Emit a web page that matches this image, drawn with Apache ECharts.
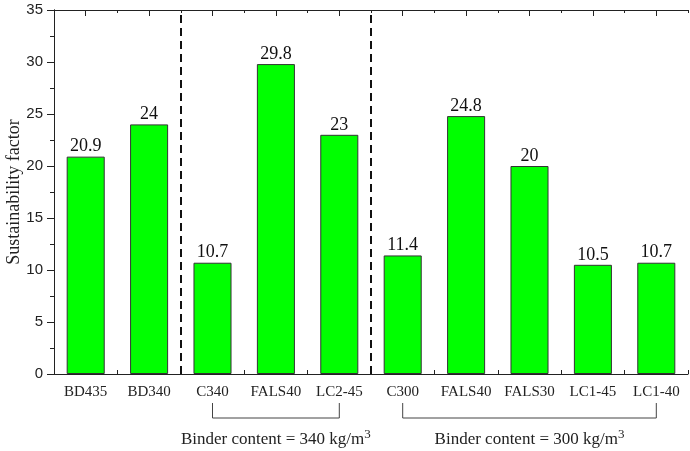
<!DOCTYPE html>
<html>
<head>
<meta charset="utf-8">
<script src="https://cdn.jsdelivr.net/npm/echarts@6/dist/echarts.min.js"></script>
<style>
  html, body { margin: 0; padding: 0; background: #fff; }
  #main { width: 690px; height: 451px; }
</style>
</head>
<body>
<div id="main"></div>
<script>
var categories = ['BD435', 'BD340', 'C340', 'FALS40', 'LC2-45', 'C300', 'FALS40', 'FALS30', 'LC1-45', 'LC1-40'];
var values = [20.9, 24, 10.7, 29.8, 23, 11.4, 24.8, 20, 10.5, 10.7];
var dividers = [2, 5];
var groups = [
  { from: 2, to: 4, label: 'Binder content = 340 kg/m', sup: '3' },
  { from: 5, to: 9, label: 'Binder content = 300 kg/m', sup: '3' }
];

var serif = '"Liberation Serif", "Times New Roman", serif';
var sans = '"Liberation Sans", Arial, sans-serif';

var chart = echarts.init(document.getElementById('main'));

chart.setOption({
  animation: false,
  grid: { left: 54, right: 2, top: 10, bottom: 77, containLabel: false, outerBoundsMode: 'none' },
  xAxis: [
    {
      type: 'category',
      data: categories,
      position: 'bottom',
      axisLine: { lineStyle: { color: '#222', width: 1 } },
      axisTick: { alignWithLabel: true, length: 5, lineStyle: { color: '#222' } },
      axisLabel: { interval: 0, hideOverlap: false, fontFamily: serif, fontSize: 15, color: '#222', margin: 11 }
    },
    {
      type: 'value',
      position: 'bottom',
      min: 0, max: 10, interval: 1,
      axisLine: { show: false },
      axisTick: { inside: true, length: 4, lineStyle: { color: '#222' } },
      axisLabel: { show: false },
      splitLine: { show: false }
    },
    {
      type: 'value',
      position: 'top',
      min: 0, max: 10, interval: 1,
      axisLine: { show: true, lineStyle: { color: '#222' } },
      axisTick: { inside: true, length: 3, lineStyle: { color: '#222' } },
      minorTick: { show: true, splitNumber: 2, length: 6, lineStyle: { color: '#222' } },
      axisLabel: { show: false },
      splitLine: { show: false }
    }
  ],
  yAxis: [
    {
      type: 'value',
      min: 0, max: 35, interval: 5,
      name: 'Sustainability factor',
      nameLocation: 'middle',
      nameGap: 31,
      nameMoveOverlap: false,
      nameTextStyle: { fontFamily: serif, fontSize: 18, color: '#222' },
      axisLine: { show: true, lineStyle: { color: '#222' } },
      axisTick: { length: 7, lineStyle: { color: '#222' } },
      minorTick: { show: true, splitNumber: 2, length: 4, lineStyle: { color: '#222' } },
      axisLabel: { fontFamily: sans, fontSize: 15, color: '#222', margin: 11 },
      splitLine: { show: false }
    },
    {
      type: 'value',
      position: 'right',
      min: 0, max: 35, interval: 5,
      axisLine: { show: true, lineStyle: { color: '#222' } },
      axisTick: { inside: true, length: 6, lineStyle: { color: '#222' } },
      minorTick: { show: true, splitNumber: 2, length: 3, lineStyle: { color: '#222' } },
      axisLabel: { show: false },
      splitLine: { show: false }
    }
  ],
  series: [
    {
      type: 'bar',
      data: values,
      xAxisIndex: 0,
      yAxisIndex: 0,
      barWidth: '60%',
      itemStyle: { color: '#00ff00', borderColor: '#333', borderWidth: 1 },
      label: {
        show: true,
        position: 'top',
        distance: 1,
        fontFamily: serif,
        fontSize: 18,
        color: '#111'
      }
    },
    {
      type: 'line',
      data: [],
      xAxisIndex: 1,
      yAxisIndex: 0,
      markLine: {
        silent: true,
        symbol: 'none',
        label: { show: false },
        lineStyle: { type: [8, 5], color: '#111', width: 2 },
        data: dividers.map(function (d) { return { xAxis: d }; })
      }
    }
  ]
});

// brackets under the category groups
var graphics = [];
var yTop = 403, yBot = 418;
groups.forEach(function (g) {
  var x1 = chart.convertToPixel({ xAxisIndex: 0 }, g.from);
  var x2 = chart.convertToPixel({ xAxisIndex: 0 }, g.to);
  graphics.push({
    type: 'polyline',
    shape: { points: [[x1, yTop], [x1, yBot], [x2, yBot], [x2, yTop]] },
    style: { stroke: '#444', lineWidth: 1, fill: null }
  });
  graphics.push({
    type: 'text',
    x: (x1 + x2) / 2,
    y: 440,
    style: {
      text: '{a|' + g.label + '}{s|' + g.sup + '}',
      align: 'center',
      verticalAlign: 'middle',
      rich: {
        a: { fontFamily: serif, fontSize: 17, fill: '#222' },
        s: { fontFamily: serif, fontSize: 13, fill: '#222', padding: [0, 0, 10, 0] }
      }
    }
  });
});
chart.setOption({ graphic: graphics });
</script>
</body>
</html>
